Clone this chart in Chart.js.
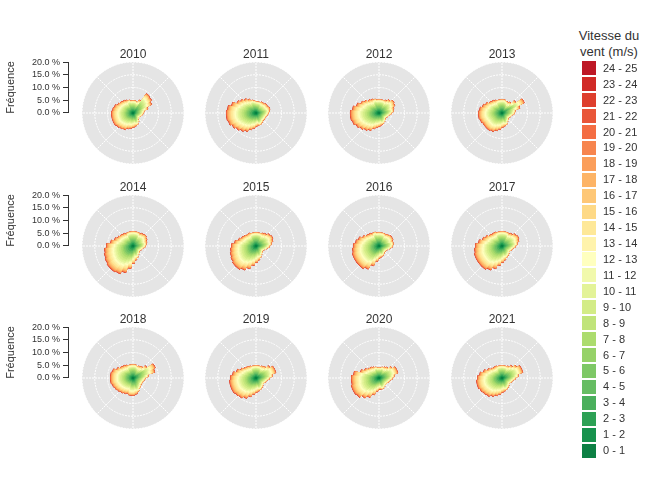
<!DOCTYPE html>
<html>
<head>
<meta charset="utf-8">
<script src="https://cdn.jsdelivr.net/npm/chart.js@4.4.1/dist/chart.umd.min.js"></script>
<style>
html,body{margin:0;padding:0;background:#fff;}
body{width:650px;height:488px;position:relative;overflow:hidden;font-family:"Liberation Sans",Arial,Helvetica,sans-serif;color:#333;}
canvas{position:absolute;display:block;}
.ttl{position:absolute;width:80px;text-align:center;font-size:12px;line-height:14px;color:#333;}
.ltitle{position:absolute;left:569px;top:28px;width:80px;text-align:center;font-size:13px;line-height:16px;color:#333;}
.sw{position:absolute;left:582px;width:14px;height:14px;}
.lt{position:absolute;left:603px;font-size:11px;line-height:13px;color:#333;white-space:nowrap;}
</style>
</head>
<body>
<div class="ltitle">Vitesse du<br>vent (m/s)</div>
<script>
// ---------------- data ----------------
const years = [2010, 2011, 2012, 2013, 2014, 2015, 2016, 2017, 2018, 2019, 2020, 2021];
const directions = [0,10,20,30,40,50,60,70,80,90,100,110,120,130,140,150,160,170,180,190,200,210,220,230,240,250,260,270,280,290,300,310,320,330,340,350];
const speedBins = ['0 - 1','1 - 2','2 - 3','3 - 4','4 - 5','5 - 6','6 - 7','7 - 8','8 - 9','9 - 10','10 - 11','11 - 12','12 - 13','13 - 14','14 - 15','15 - 16','16 - 17','17 - 18','18 - 19','19 - 20','20 - 21','21 - 22','22 - 23','23 - 24','24 - 25'];
const radialTicks = [0, 5, 10, 15, 20];

// total frequency (%) per direction, one array per year
const freq2010 = [4.8,4.8,4.4,5.6,9.2,8.8,8.0,6.0,4.4,4.0,3.6,3.2,2.8,2.8,3.2,4.0,4.8,5.2,5.6,6.0,6.4,7.2,7.6,8.0,8.4,8.4,8.4,8.4,8.0,7.6,6.8,6.4,6.0,5.6,5.2,4.8];
const freq2011 = [4.4,4.4,4.4,4.8,4.8,5.2,5.2,5.6,5.2,4.8,4.4,4.0,4.0,4.0,4.0,4.4,4.8,4.8,5.2,6.0,6.8,8.0,8.8,9.6,10.4,11.2,11.6,11.6,11.2,10.0,8.4,7.6,6.8,6.0,5.2,4.8];
const freq2012 = [5.2,5.2,5.2,5.6,6.4,7.2,6.8,6.0,5.6,4.8,4.0,3.6,3.2,3.2,3.6,4.0,4.4,4.8,5.2,5.6,6.4,7.6,8.4,9.2,10.0,10.8,11.2,11.2,10.4,9.2,8.0,7.2,6.4,6.0,5.6,5.2];
const freq2013 = [5.2,5.2,4.8,4.8,5.2,6.8,9.6,7.2,5.2,4.8,4.0,3.6,3.2,3.2,3.6,4.0,4.8,5.2,5.6,6.4,7.2,8.0,8.4,8.4,8.4,8.8,9.2,9.2,8.8,8.0,7.2,6.4,6.0,5.6,5.2,5.2];
const freq2014 = [5.6,5.6,5.6,5.6,6.0,6.4,6.0,5.6,5.2,4.8,4.0,3.6,3.2,3.2,3.6,4.0,4.8,5.6,6.8,8.8,10.8,12.0,12.4,12.4,12.0,11.6,11.2,10.4,8.8,7.6,6.8,6.4,6.0,5.6,5.6,5.6];
const freq2015 = [5.2,5.2,5.2,5.6,6.0,6.8,7.2,6.8,6.0,5.2,4.4,3.6,3.2,3.2,3.6,4.0,4.8,5.6,6.4,7.6,9.2,10.4,11.2,11.2,10.8,10.4,10.0,9.6,8.4,7.2,6.4,6.0,5.6,5.6,5.2,5.2];
const freq2016 = [5.2,5.2,5.2,5.2,5.6,6.0,6.0,5.6,5.6,5.2,4.4,3.6,3.2,3.2,3.2,3.6,4.0,4.4,4.8,6.0,8.0,10.0,10.8,10.8,10.8,10.8,10.4,10.0,9.2,8.4,7.2,6.4,6.0,5.6,5.6,5.2];
const freq2017 = [5.6,5.6,5.6,5.6,6.0,6.8,7.2,6.8,6.0,5.2,4.4,4.0,3.6,3.6,4.0,4.4,4.8,5.6,6.4,7.6,9.2,10.4,11.2,11.2,11.2,11.2,10.8,10.4,9.2,8.0,7.2,6.4,6.0,6.0,5.6,5.6];
const freq2018 = [5.2,5.2,4.8,5.2,5.6,6.8,9.6,8.8,6.0,4.8,4.4,4.0,4.0,4.0,4.4,4.8,5.6,6.4,6.8,6.8,6.4,6.8,7.2,7.6,8.0,8.4,8.8,8.8,8.8,8.4,7.2,6.4,6.0,5.6,5.2,5.2];
const freq2019 = [4.8,4.8,4.8,5.2,5.6,6.8,8.0,8.0,6.4,5.2,4.4,4.0,3.6,3.6,4.0,4.4,4.8,5.2,5.6,6.4,7.6,8.8,9.6,10.0,10.4,10.4,10.4,10.0,9.2,8.0,6.8,6.0,5.6,5.2,4.8,4.8];
const freq2020 = [4.0,4.0,4.4,4.8,5.2,6.4,7.6,7.6,6.0,5.2,4.4,4.0,3.6,3.6,3.6,4.0,4.4,4.4,4.4,5.2,6.8,8.4,9.6,10.8,11.2,11.2,10.8,10.8,10.0,7.6,6.4,5.6,5.2,4.8,4.4,4.0];
const freq2021 = [4.8,4.8,4.8,5.2,6.0,7.2,8.4,8.4,6.4,5.2,4.4,4.0,3.6,3.6,4.0,4.4,4.8,5.2,5.6,6.4,7.2,8.0,8.8,9.2,9.6,10.0,10.0,9.6,8.8,7.6,6.4,5.6,5.2,5.2,4.8,4.8];
const freqByYear = [freq2010, freq2011, freq2012, freq2013, freq2014, freq2015, freq2016, freq2017, freq2018, freq2019, freq2020, freq2021];

// share (%) of each speed bin inside a direction, by kind of sector
const shareStrong     = [3,4,5,6,6,6,5,6,7,7,6,5.5,5.5,5.5,5.6,4,3.5,3,2.5,1.5,1,0.7,0.4,0.2,0.1];
const shareModerate   = [3,5,6,7,7,7,7,7,7,7,6,5,5,4,4,3,3,2,2,1,1,0.5,0.5,0,0];
const shareTransition = [4,5,6,7,7,7,6,6,6,6,6.5,5,5,5,4,3.5,3,2.5,2,1.5,1,0.5,0.3,0.2,0];
const shareCalm       = [5,7,8,9,9,9,8,8,7,6,5,4,4,3,2,2,1.5,1,0.5,0.5,0.3,0.2,0,0,0];
// sector kind for each of the 36 directions (S strong, M moderate, T transition, C calm)
const sectorProfile = 'CCCMMMMMCCCCCCCCCTTTSSSSSSSSSSTTTTCC';

// ---------------- style ----------------
const binColors = ['#0d8044','#17924d','#2da155','#4aaf5c','#66bd63','#7ec866','#96d268','#acdc6e','#c0e47a','#d3ec87','#e3f398','#f1f9ac','#ffffbf','#fff3ac','#fee898','#fed986','#fec776','#fdb466','#fb9e5a','#f7854e','#f46d43','#e95639','#de3f2e','#d12a27','#be1826'];
const FONT = '"Liberation Sans", Arial, Helvetica, sans-serif';
Chart.defaults.font.family = FONT;
Chart.defaults.color = '#333';
Chart.defaults.animation = false;

const CX = [133, 256, 379, 502];
const CY = [113, 246, 378];
const R = 51;

function stacksFor(totals) {
  const prof = {S: shareStrong, M: shareModerate, T: shareTransition, C: shareCalm};
  const stacks = speedBins.map(() => []);
  totals.forEach((tot, d) => {
    const p = prof[sectorProfile[d]];
    let acc = 0;
    for (let k = 0; k < speedBins.length; k++) {
      acc += tot * p[k] / 100;
      stacks[k][d] = +acc.toFixed(4);
    }
  });
  return stacks;
}

function makeCanvas(left, top, w, h) {
  const c = document.createElement('canvas');
  c.width = w; c.height = h;
  c.style.left = left + 'px'; c.style.top = top + 'px';
  c.style.width = w + 'px'; c.style.height = h + 'px';
  document.body.appendChild(c);
  return c;
}

const noPlugins = {legend: {display: false}, tooltip: {enabled: false}, title: {display: false}};

years.forEach((year, i) => {
  const col = i % 4, row = Math.floor(i / 4);
  const cx = CX[col], cy = CY[row];

  // background grid
  new Chart(makeCanvas(cx - R, cy - R, 2 * R, 2 * R), {
    type: 'polarArea',
    data: {labels: ['N','NE','E','SE','S','SO','O','NO'], datasets: []},
    options: {
      responsive: false, animation: false, events: [],
      plugins: noPlugins,
      scales: {r: {
        min: radialTicks[0], max: radialTicks[radialTicks.length - 1],
        startAngle: 0,
        backgroundColor: '#e5e5e5',
        ticks: {display: false, stepSize: radialTicks[1] - radialTicks[0]},
        pointLabels: {display: false},
        grid: {display: true, circular: true, color: '#ffffff', lineWidth: 1},
        border: {dash: [2, 1]},
        angleLines: {display: true, color: '#ffffff', lineWidth: 1, borderDash: [2, 1]}
      }}
    }
  });

  // wind rose (cumulative stacks, innermost drawn on top)
  const stacks = stacksFor(freqByYear[i]);
  new Chart(makeCanvas(cx - R, cy - R, 2 * R, 2 * R), {
    type: 'polarArea',
    data: {
      labels: directions.map(d => d + '°'),
      datasets: stacks.map((data, k) => ({
        label: speedBins[k], data,
        backgroundColor: binColors[k], borderColor: binColors[k], borderWidth: 0.5
      }))
    },
    options: {
      responsive: false, animation: false, events: [],
      plugins: noPlugins,
      scales: {r: {
        min: radialTicks[0], max: radialTicks[radialTicks.length - 1],
        startAngle: -5,
        ticks: {display: false},
        pointLabels: {display: false},
        grid: {display: false},
        angleLines: {display: false}
      }}
    }
  });

  // year title
  const t = document.createElement('div');
  t.className = 'ttl';
  t.textContent = year;
  t.style.left = (cx - 40) + 'px';
  t.style.top = (cy - R - 15) + 'px';
  document.body.appendChild(t);

  // left frequency axis on the first column
  if (col === 0) {
    new Chart(makeCanvas(0, cy - R - 8, 80, 2 * 8 + R), {
      type: 'scatter',
      data: {datasets: []},
      options: {
        responsive: false, animation: false, events: [],
        plugins: noPlugins,
        layout: {padding: {top: 8, bottom: 8, left: 0, right: 0}},
        scales: {
          x: {display: false},
          y: {
            min: radialTicks[0], max: radialTicks[radialTicks.length - 1],
            afterBuildTicks: s => { s.ticks = radialTicks.map(v => ({value: v})); },
            afterFit: s => { s.width = 68; },
            ticks: {autoSkip: false, callback: v => v.toFixed(1) + ' %', font: {size: 9}, color: '#333', padding: 3},
            grid: {drawOnChartArea: false, drawTicks: true, tickLength: 5, tickColor: '#333', tickWidth: 1},
            border: {display: true, color: '#333', width: 1},
            title: {display: true, text: 'Fréquence', font: {size: 11}, color: '#333'}
          }
        }
      }
    });
  }
});

// legend
const LEG_TOP = 68.3, LEG_STEP = 15.93;
for (let k = speedBins.length - 1, j = 0; k >= 0; k--, j++) {
  const yc = LEG_TOP + j * LEG_STEP;
  const sw = document.createElement('div');
  sw.className = 'sw';
  sw.style.top = (yc - 7) + 'px';
  sw.style.background = binColors[k];
  document.body.appendChild(sw);
  const lt = document.createElement('div');
  lt.className = 'lt';
  lt.style.top = (yc - 6.5) + 'px';
  lt.textContent = speedBins[k];
  document.body.appendChild(lt);
}
</script>
</body>
</html>
